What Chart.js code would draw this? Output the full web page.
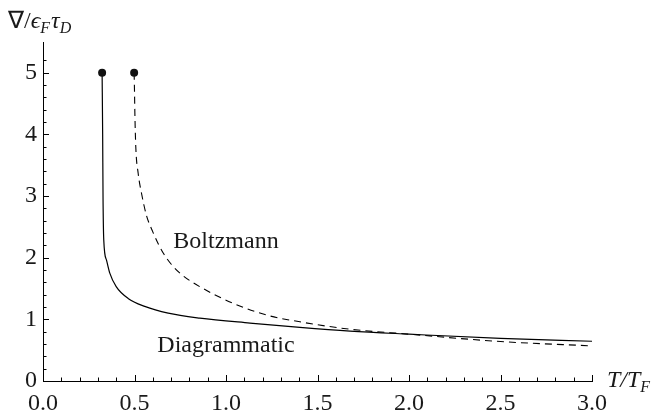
<!DOCTYPE html>
<html>
<head>
<meta charset="utf-8">
<script src="https://cdn.jsdelivr.net/npm/chart.js@4/dist/chart.umd.min.js"></script>
<style>
html,body{margin:0;padding:0;background:#fff;}
#wrap{width:656px;height:414px;}
</style>
</head>
<body>
<div id="wrap"><canvas id="c" width="656" height="414"></canvas></div>
<script>
// Diagrammatic curve (solid)
const diagX = [0.323, 0.326, 0.328, 0.332, 0.347, 0.365, 0.40, 0.465, 0.556, 0.684, 0.857, 1.131, 1.404, 1.678, 2.0,  2.5,  3.0];
const diagY = [5.0,   4.0,   3.0,   2.29,  1.96,  1.75,  1.53, 1.34,  1.21,  1.10,  1.02,  0.94,  0.87,  0.81,  0.76, 0.69, 0.645];
// Boltzmann curve (dashed)
const boltzX = [0.498, 0.500, 0.502, 0.507, 0.520, 0.538, 0.566, 0.600, 0.629, 0.656, 0.702, 0.760, 0.857, 1.04, 1.222, 1.404, 1.678, 2.0,  2.5,  3.0];
const boltzY = [5.0,   4.7,   4.35,  3.80,  3.37,  3.05,  2.68,  2.42,  2.23,  2.08,  1.89,  1.72,  1.53,  1.26, 1.07,  0.96,  0.84,  0.76, 0.64, 0.57];
// tick labels
const xTickLabels = ["0.0","0.5","1.0","1.5","2.0","2.5","3.0"];
const yTickLabels = ["0","1","2","3","4","5"];
// curve annotations
const annotations = [
  {text: "Boltzmann", x: 1.0, y: 2.16},
  {text: "Diagrammatic", x: 1.0, y: 0.476}
];

const SERIF = "'Liberation Serif', 'Times New Roman', Times, serif";
const TXT = '#1a1a1a';

function toPts(xs, ys){ return xs.map((x,i)=>({x:x, y:ys[i]})); }
function near(v, step){ return Math.abs(v/step - Math.round(v/step)) < 1e-6; }

const tickPlugin = {
  id: 'innerTicks',
  afterDraw(chart){
    const ctx = chart.ctx;
    const xs = chart.scales.x, ys = chart.scales.y;
    const ca = chart.chartArea;
    ctx.save();
    ctx.strokeStyle = '#000';
    ctx.lineWidth = 1;
    ctx.beginPath();
    xs.ticks.forEach(t => {
      if (!near(t.value, 0.1)) return;
      const px = Math.round(xs.getPixelForValue(t.value)) + 0.5;
      const len = near(t.value, 0.5) ? 6 : 3.5;
      ctx.moveTo(px, ca.bottom);
      ctx.lineTo(px, ca.bottom - len);
    });
    ys.ticks.forEach(t => {
      if (!near(t.value, 0.2)) return;
      const py = Math.round(ys.getPixelForValue(t.value)) + 0.5;
      const len = near(t.value, 1) ? 6 : 3.5;
      ctx.moveTo(ca.left, py);
      ctx.lineTo(ca.left + len, py);
    });
    ctx.stroke();

    // annotations
    ctx.fillStyle = TXT;
    ctx.font = '24px ' + SERIF;
    ctx.textAlign = 'center';
    ctx.textBaseline = 'alphabetic';
    annotations.forEach(a => {
      ctx.fillText(a.text, xs.getPixelForValue(a.x), ys.getPixelForValue(a.y));
    });

    // axis titles
    ctx.textAlign = 'left';
    let x = 8, base = 28;
    ctx.font = '24px ' + SERIF;
    ctx.fillText('\u2207/', x, base); x += ctx.measureText('\u2207/').width;
    ctx.font = 'italic 24px ' + SERIF;
    ctx.fillText('\u03F5', x, base); x += ctx.measureText('\u03F5').width;
    ctx.font = 'italic 16px ' + SERIF;
    ctx.fillText('F', x, base + 5); x += ctx.measureText('F').width + 1;
    ctx.font = 'italic 24px ' + SERIF;
    ctx.fillText('\u03C4', x, base); x += ctx.measureText('\u03C4').width;
    ctx.font = 'italic 16px ' + SERIF;
    ctx.fillText('D', x, base + 5);

    x = ca.right + 15; base = 387;
    ctx.font = 'italic 24px ' + SERIF;
    ctx.fillText('T/T', x, base); x += ctx.measureText('T/T').width;
    ctx.font = 'italic 16px ' + SERIF;
    ctx.fillText('F', x, base + 5);
    ctx.restore();
  }
};

new Chart(document.getElementById('c'), {
  type: 'line',
  data: {
    datasets: [
      {
        label: 'Diagrammatic',
        data: toPts(diagX, diagY),
        borderColor: '#000',
        borderWidth: 1.2,
        pointRadius: c => c.dataIndex === 0 ? 4 : 0,
        pointBackgroundColor: '#111',
        pointBorderWidth: 0,
        cubicInterpolationMode: 'monotone',
        fill: false
      },
      {
        label: 'Boltzmann',
        data: toPts(boltzX, boltzY),
        borderColor: '#000',
        borderWidth: 1.1,
        borderDash: [7, 5],
        pointRadius: c => c.dataIndex === 0 ? 4 : 0,
        pointBackgroundColor: '#111',
        pointBorderWidth: 0,
        cubicInterpolationMode: 'monotone',
        fill: false
      }
    ]
  },
  options: {
    responsive: false,
    animation: false,
    devicePixelRatio: 1,
    layout: { padding: { left: 0, right: 64, top: 42, bottom: 0 } },
    plugins: { legend: { display: false }, tooltip: { enabled: false } },
    scales: {
      x: {
        type: 'linear',
        min: 0, max: 3.0,
        afterFit: s => { s.height = 33; },
        grid: { display: true, drawOnChartArea: false, drawTicks: false },
        border: { display: true, color: '#000', width: 1 },
        ticks: {
          stepSize: 0.1,
          autoSkip: false,
          maxRotation: 0,
          padding: 8,
          color: TXT,
          font: { family: SERIF, size: 24 },
          callback: v => {
            if (!near(v, 0.5)) return '';
            const i = Math.round(v / 0.5);
            return xTickLabels[i] !== undefined ? xTickLabels[i] : '';
          }
        }
      },
      y: {
        type: 'linear',
        min: 0, max: 5.5,
        afterFit: s => { s.width = 43; },
        grid: { display: true, drawOnChartArea: false, drawTicks: false },
        border: { display: true, color: '#000', width: 1 },
        ticks: {
          stepSize: 0.2,
          autoSkip: false,
          padding: 6,
          color: TXT,
          font: { family: SERIF, size: 24 },
          callback: v => {
            if (!near(v, 1)) return '';
            const i = Math.round(v);
            return yTickLabels[i] !== undefined ? yTickLabels[i] : '';
          }
        }
      }
    }
  },
  plugins: [tickPlugin]
});
</script>
</body>
</html>
